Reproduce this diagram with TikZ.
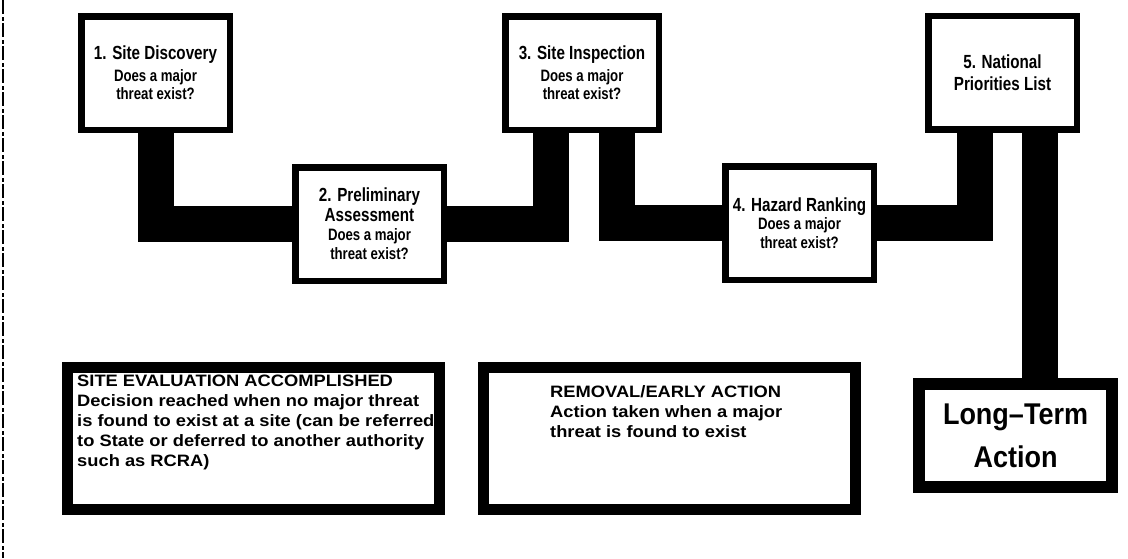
\documentclass[tikz,border=0pt]{standalone}
\usepackage{fontspec}
\setmainfont{Liberation Sans}
\newfontfamily\condf[FakeStretch=0.8]{Liberation Sans}
\newfontfamily\bigcond[FakeStretch=0.9]{Liberation Sans}
\newfontfamily\widef[FakeStretch=1.11]{Liberation Sans}
\newcommand\ttlfont{\fontsize{19}{20}\selectfont\condf\bfseries}
\newcommand\subfont{\fontsize{16.5}{18.5}\selectfont\condf\bfseries}
\begin{document}
\begin{tikzpicture}[x=1pt,y=-1pt,
  stepbox/.style={draw, line width=6.5pt, fill=white, inner sep=0pt, align=center,
    minimum width=148.5pt, minimum height=113.5pt, font=\subfont},
  infobox/.style={draw, line width=11pt, fill=white, inner sep=0pt,
    minimum width=372pt, minimum height=142pt},
  infotext/.style={anchor=north west, inner sep=0pt, align=left,
    font=\fontsize{16.5}{20}\selectfont\widef\bfseries},
  bar/.style={line width=36pt, line join=miter, line cap=butt}]
\useasboundingbox[fill=white] (0,0) rectangle (1128,558);
% scan edge
\draw[line width=1.6pt, dash pattern=on 14pt off 3pt on 4pt off 2pt] (3,0) -- (3,558);

% process steps
\node[stepbox] (s1) at (155.5,73) {{\ttlfont 1. Site Discovery}\\[3pt]Does a major\\threat exist?};
\node[stepbox] (s2) at (369.5,224) {{\ttlfont 2. Preliminary}\\[1pt]{\ttlfont Assessment}\\[1pt]Does a major\\[0.5pt]threat exist?};
\node[stepbox, minimum width=153.5pt] (s3) at (582,73) {{\ttlfont 3. Site Inspection}\\[3pt]Does a major\\threat exist?};
\node[stepbox] (s4) at (799.5,223) {{\ttlfont 4. Hazard Ranking}\\Does a major\\threat exist?};
\node[stepbox] (s5) at (1002.5,72.5) {{\ttlfont 5. National}\\[4pt]{\ttlfont Priorities List}};
\node[draw, line width=12pt, fill=white, inner sep=0pt, align=center,
  minimum width=193pt, minimum height=103pt,
  font=\fontsize{30}{43}\selectfont\bigcond\bfseries] (lt) at (1015.5,435.5) {Long–Term\\Action};

% outcome boxes
\node[infobox] (eval) at (253.5,438.5) {};
\node[infobox] (rem) at (669,438.5) {};
\node[infotext] (evaltext) at (77,375) {SITE EVALUATION ACCOMPLISHED\\Decision reached when no major threat\\is found to exist at a site (can be referred\\to State or deferred to another authority\\such as RCRA)};
\node[infotext] (remtext) at (550,385) {REMOVAL/EARLY ACTION\\Action taken when a major\\threat is found to exist};

% thick connectors
\draw[bar] (s1.south) |- (s2.west);
\draw[bar] (s2.east) -| ([xshift=-31.5pt]s3.south);
\draw[bar] ([xshift=35pt]s3.south) |- (s4.west);
\draw[bar] (s4.east) -| ([xshift=-27.5pt]s5.south);
\coordinate (ltin) at ([xshift=24pt]lt.north);
\draw[bar] ([xshift=37pt]s5.south) -- (ltin);
\end{tikzpicture}
\end{document}
